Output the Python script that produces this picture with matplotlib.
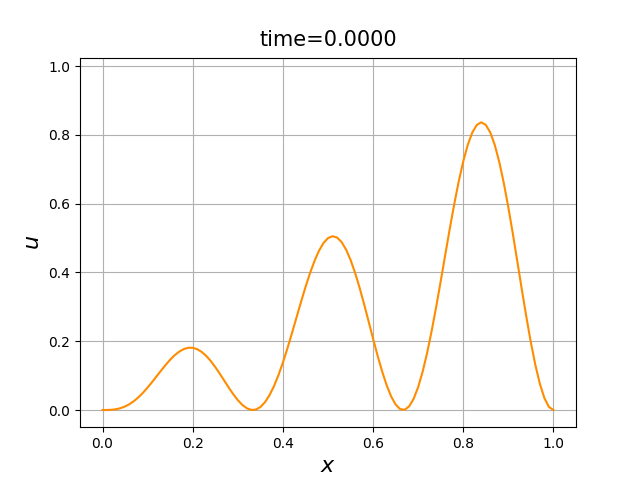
import matplotlib
matplotlib.use('Agg')
import matplotlib.pyplot as plt

# values, every 0.01 in x
x_vals = [0.00, 0.01, 0.02, 0.03, 0.04, 0.05, 0.06, 0.07, 0.08, 0.09,
          0.10, 0.11, 0.12, 0.13, 0.14, 0.15, 0.16, 0.17, 0.18, 0.19,
          0.20, 0.21, 0.22, 0.23, 0.24, 0.25, 0.26, 0.27, 0.28, 0.29,
          0.30, 0.31, 0.32, 0.33, 0.34, 0.35, 0.36, 0.37, 0.38, 0.39,
          0.40, 0.41, 0.42, 0.43, 0.44, 0.45, 0.46, 0.47, 0.48, 0.49,
          0.50, 0.51, 0.52, 0.53, 0.54, 0.55, 0.56, 0.57, 0.58, 0.59,
          0.60, 0.61, 0.62, 0.63, 0.64, 0.65, 0.66, 0.67, 0.68, 0.69,
          0.70, 0.71, 0.72, 0.73, 0.74, 0.75, 0.76, 0.77, 0.78, 0.79,
          0.80, 0.81, 0.82, 0.83, 0.84, 0.85, 0.86, 0.87, 0.88, 0.89,
          0.90, 0.91, 0.92, 0.93, 0.94, 0.95, 0.96, 0.97, 0.98, 0.99, 1.00]
u_vals = [0.0000, 0.0001, 0.0007, 0.0023, 0.0054, 0.0103, 0.0172, 0.0263, 0.0375, 0.0506,
          0.0655, 0.0815, 0.0982, 0.1151, 0.1313, 0.1463, 0.1594, 0.1698, 0.1772, 0.1810,
          0.1809, 0.1769, 0.1689, 0.1573, 0.1425, 0.1250, 0.1056, 0.0853, 0.0650, 0.0457,
          0.0287, 0.0147, 0.0050, 0.0003, 0.0013, 0.0086, 0.0223, 0.0424, 0.0689, 0.1010,
          0.1382, 0.1793, 0.2232, 0.2685, 0.3137, 0.3572, 0.3977, 0.4334, 0.4632, 0.4857,
          0.5000, 0.5055, 0.5017, 0.4888, 0.4668, 0.4366, 0.3992, 0.3559, 0.3082, 0.2580,
          0.2073, 0.1581, 0.1124, 0.0723, 0.0396, 0.0159, 0.0026, 0.0007, 0.0107, 0.0328,
          0.0668, 0.1120, 0.1671, 0.2306, 0.3007, 0.3750, 0.4512, 0.5268, 0.5990, 0.6654,
          0.7236, 0.7714, 0.8071, 0.8292, 0.8367, 0.8292, 0.8069, 0.7702, 0.7205, 0.6594,
          0.5891, 0.5121, 0.4311, 0.3494, 0.2699, 0.1958, 0.1301, 0.0755, 0.0344, 0.0088, 0.0000]
time_val = 0.0

fig, ax = plt.subplots(figsize=(6.4, 4.8), dpi=100)
ax.plot(x_vals, u_vals, color='darkorange')
ax.set_ylim(-0.05, 1.025)
ax.grid(True)
ax.set_xlabel('$x$', fontsize=16)
ax.set_ylabel('$u$', fontsize=16)
ax.set_title('time=%.4f' % time_val, fontsize=15, pad=8)

fig.savefig('out.png')
